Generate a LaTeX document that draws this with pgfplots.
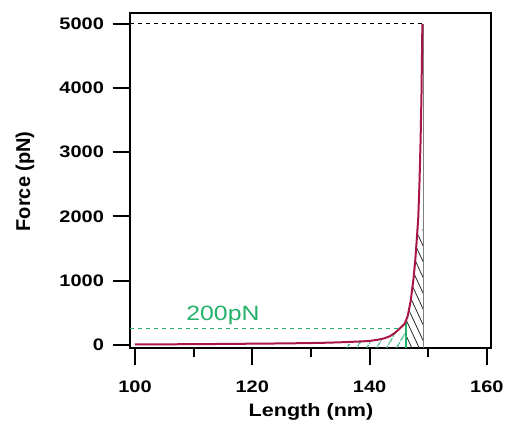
\documentclass[border=0pt]{standalone}
\usepackage{fontspec}
\setmainfont{Liberation Sans}[FakeStretch=1.2]
\newfontfamily\ylabfont{Liberation Sans}
\usepackage{pgfplots}
\pgfplotsset{compat=1.18}
\usetikzlibrary{patterns.meta}
\definecolor{curvecol}{RGB}{168,22,72}
\definecolor{greencol}{RGB}{34,178,105}

\begin{document}
\begin{tikzpicture}
\useasboundingbox (-97.5pt,-59.25pt) rectangle (282.75pt,261pt);
\begin{axis}[
  scale only axis, width=270.75pt, height=251.25pt,
  xmin=99.15, xmax=160.7, ymin=-50, ymax=5170,
  axis line style={line width=1.4pt},
  xtick={100,120,140,160}, minor xtick={110,130,150},
  ytick={0,1000,2000,3000,4000,5000},
  xtick pos=bottom, ytick pos=left, tick align=outside,
  major tick length=13pt, minor tick length=7pt,
  tick style={line width=1.4pt,black},
  /pgf/number format/assume math mode=true,
  /pgf/number format/set thousands separator={},
  ticklabel style={font=\bfseries\fontsize{12.5}{13}\selectfont},
  xticklabel style={yshift=-8pt},
  yticklabel style={xshift=-3pt},
  clip=false,
]
% hatched areas (down to the frame)
\addplot[pattern={Lines[angle=60,distance=6.5pt,line width=1pt]}, pattern color=greencol, draw=none] coordinates {
  (136,-50) (136,42) (138,50) (140,60) (141.5,80) (142.5,100) (143.5,135) (144.3,185)
  (145,240) (145.5,285) (146,330) (146.2,378) (146.2,-50)} --cycle;
\addplot[pattern={Lines[angle=-65,distance=5pt,line width=0.6pt]}, pattern color=black!85, draw=none] coordinates {
  (146.2,-50) (146.2,378) (146.5,450) (147,680) (147.5,1040) (147.8,1330) (148,1580)
  (148.165,1800) (149.2,1800) (149.2,-50)} --cycle;
% guide lines
\addplot[black, dashed, line width=0.6pt] coordinates {(99.15,5000) (149,5000)};
\addplot[greencol, dashed, line width=0.6pt] coordinates {(99.15,255) (144.8,255)};
\addplot[greencol, line width=1pt] coordinates {(146.2,-50) (146.2,378)};
\addplot[gray, line width=0.8pt] coordinates {(149.2,-50) (149.2,5000)};
% force-extension curve
\addplot[curvecol, line width=1.5pt] coordinates {
  (100,5) (105,7) (110,10) (115,13) (120,17) (125,21) (130,27) (133,33)
  (136,42) (138,50) (140,60) (141.5,80) (142.5,100) (143.5,135) (144.3,185)
  (145,240) (145.5,285) (146,330) (146.5,450) (147,680) (147.5,1040)
  (147.8,1330) (148,1580) (148.3,1980) (148.5,2500) (148.7,3200)
  (148.85,3900) (149,5000)};
\node[greencol, anchor=base, font=\fontsize{15.5}{16}\selectfont] at (axis cs:115,374) {200pN};
\end{axis}
\node[rotate=90, font=\ylabfont\bfseries\fontsize{15}{16}\selectfont] at (-78.75pt,125pt) {Force (pN)};
\node[anchor=base, font=\bfseries\fontsize{13.5}{14}\selectfont] at (135.75pt,-51.75pt) {Length (nm)};
\end{tikzpicture}
\end{document}
